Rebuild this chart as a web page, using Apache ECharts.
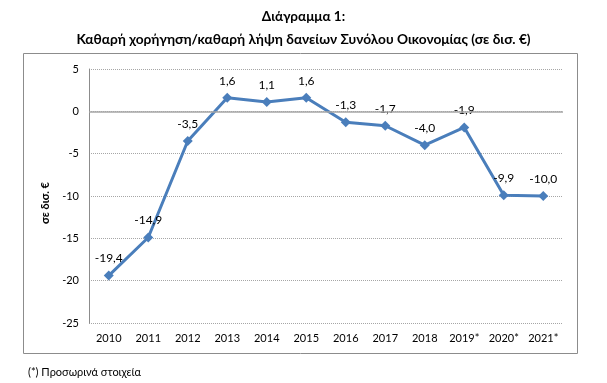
<!DOCTYPE html>
<html><head><meta charset="utf-8">
<script src="https://cdn.jsdelivr.net/npm/echarts@6/dist/echarts.min.js"></script>
<style>html,body{margin:0;padding:0;background:#fff;}#c{width:607px;height:383px;}</style>
</head><body><div id="c"></div>
<script>
const categories = ['2010','2011','2012','2013','2014','2015','2016','2017','2018','2019*','2020*','2021*'];
const values = [-19.4,-14.9,-3.5,1.6,1.1,1.6,-1.3,-1.7,-4.0,-1.9,-9.9,-10.0];
const yTicks = {min:-25, max:5, interval:5};
const titleText = 'Διάγραμμα 1:';
const subtitleText = 'Καθαρή χορήγηση/καθαρή λήψη δανείων Συνόλου Οικονομίας (σε δισ. €)';
const yName = 'σε δισ. €';
const footnote = '(*) Προσωρινά στοιχεία';

const FONT = 'Lato, "Open Sans", sans-serif';
const chart = echarts.init(document.getElementById('c'), null, {renderer:'canvas'});
chart.setOption({
  animation:false,
  textStyle:{fontFamily:FONT},
  title:[
    {text:titleText, left:'center', top:5, textStyle:{fontFamily:FONT, fontSize:13.5, fontWeight:'bold', color:'#000'}},
    {text:subtitleText, left:'center', top:28, textStyle:{fontFamily:FONT, fontSize:13.7, fontWeight:'bold', color:'#000'}},
    {text:footnote, left:23, top:362, textStyle:{fontFamily:FONT, fontSize:11, fontWeight:'normal', color:'#000'}}
  ],
  graphic:[{type:'rect', shape:{x:23.5,y:53.5,width:554,height:300}, style:{fill:'none', stroke:'#8c8c8c', lineWidth:1}, silent:true, z:-10}],
  grid:{left:89, right:44, top:69, bottom:60},
  xAxis:{type:'category', data:categories, boundaryGap:true,
    axisLine:{show:false}, axisTick:{show:false},
    axisLabel:{fontFamily:FONT, fontSize:11, color:'#000', margin:10}},
  yAxis:{type:'value', min:yTicks.min, max:yTicks.max, interval:yTicks.interval,
    name:yName, nameLocation:'middle', nameRotate:90, nameGap:32,
    nameTextStyle:{fontFamily:FONT, fontSize:11, fontWeight:'bold', color:'#000', padding:[0,14,0,0]},
    axisLine:{show:true, lineStyle:{color:'#8c8c8c', width:1}}, axisTick:{show:false},
    axisLabel:{fontFamily:FONT, fontSize:11, color:'#000', margin:10},
    splitLine:{show:true, lineStyle:{color:'#a6a6a6', type:[1,1], width:1}}},
  series:[{type:'line', data:values, symbol:'diamond', symbolSize:10,
    lineStyle:{color:'#4a7ebb', width:3}, itemStyle:{color:'#4a7ebb'},
    label:{show:true, position:'top', distance:6, fontFamily:FONT, fontSize:12, color:'#000',
      formatter:p=>p.value.toFixed(1).replace('.',',')},
    markLine:{silent:true, symbol:['none','none'], label:{show:false},
      lineStyle:{color:'#a6a6a6', type:'solid', width:1.5}, data:[{yAxis:0}]},
    z:3}]
});
</script></body></html>
